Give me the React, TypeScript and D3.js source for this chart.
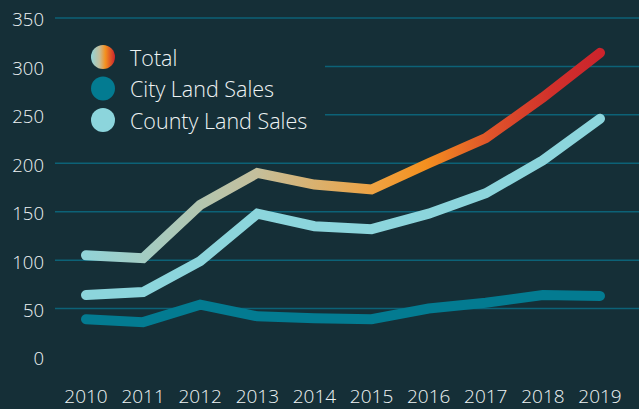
import { useEffect, useRef } from "react";
import * as d3 from "d3";

const years = ["2010", "2011", "2012", "2013", "2014", "2015", "2016", "2017", "2018", "2019"];
const total = [105, 102, 157, 190, 178, 173, 200, 226, 268, 314];
const citySales = [39, 36, 54, 42, 40, 39, 50, 56, 64, 63];
const countySales = [64, 67, 99, 148, 135, 132, 148, 169, 203, 246];
const yTicks = [0, 50, 100, 150, 200, 250, 300, 350];

const BG = "#152f37";
const GRID = "#0c6277";
const CITY = "#037b91";
const COUNTY = "#8cd5dc";
const TEXT = "#eef3f4";
const FONT = "Open Sans, sans-serif";

export default function App() {
  const ref = useRef<SVGSVGElement>(null);

  useEffect(() => {
    const width = 639;
    const height = 409;
    const svg = d3.select(ref.current);
    svg.selectAll("*").remove();

    const x = d3.scalePoint().domain(years).range([86, 600]);
    const y = d3.scaleLinear().domain([0, 350]).range([357, 18]);

    const defs = svg.append("defs");
    const stops = [
      [0, "#8fd4da"],
      [0.34, "#c4bf9c"],
      [0.56, "#eea343"],
      [0.66, "#f4901f"],
      [0.78, "#e0552a"],
      [0.9, "#d1302b"],
      [1, "#cc232c"],
    ];
    const grad = defs
      .append("linearGradient")
      .attr("id", "totalGrad")
      .attr("gradientUnits", "userSpaceOnUse")
      .attr("x1", 76)
      .attr("x2", 605)
      .attr("y1", 0)
      .attr("y2", 0);
    grad
      .selectAll("stop")
      .data(stops)
      .join("stop")
      .attr("offset", (d) => d[0])
      .attr("stop-color", (d) => d[1] as string);

    const legendGrad = defs.append("linearGradient").attr("id", "legendGrad");
    legendGrad
      .selectAll("stop")
      .data([
        [0, "#8fd4da"],
        [0.35, "#c4bf9c"],
        [0.6, "#f4901f"],
        [1, "#cc232c"],
      ])
      .join("stop")
      .attr("offset", (d) => d[0])
      .attr("stop-color", (d) => d[1] as string);

    svg.append("rect").attr("width", width).attr("height", height).attr("fill", BG);

    svg
      .selectAll("line.grid")
      .data(yTicks.filter((t) => t > 0))
      .join("line")
      .attr("class", "grid")
      .attr("x1", 55)
      .attr("x2", width)
      .attr("y1", (d) => y(d))
      .attr("y2", (d) => y(d))
      .attr("stroke", GRID)
      .attr("stroke-width", 1.5);

    svg
      .selectAll("text.ytick")
      .data(yTicks)
      .join("text")
      .attr("class", "ytick")
      .attr("x", 44)
      .attr("y", (d) => y(d) + 2)
      .attr("dy", "0.35em")
      .attr("text-anchor", "end")
      .attr("font-family", FONT)
      .attr("font-weight", 300)
      .attr("font-size", 18.5)
      .attr("fill", TEXT)
      .text((d) => d);

    svg
      .selectAll("text.xtick")
      .data(years)
      .join("text")
      .attr("class", "xtick")
      .attr("x", (d) => x(d) as number)
      .attr("y", 403)
      .attr("text-anchor", "middle")
      .attr("font-family", FONT)
      .attr("font-weight", 300)
      .attr("font-size", 19)
      .attr("fill", TEXT)
      .text((d) => d);

    // legend box hides the grid behind it
    svg.append("rect").attr("x", 55).attr("y", 36).attr("width", 270).attr("height", 104).attr("fill", BG);

    const line = d3
      .line<number>()
      .x((_, i) => x(years[i]) as number)
      .y((d) => y(d));

    const series = [
      { values: citySales, color: CITY },
      { values: countySales, color: COUNTY },
      { values: total, color: "url(#totalGrad)" },
    ];

    svg
      .selectAll("path.series")
      .data(series)
      .join("path")
      .attr("class", "series")
      .attr("d", (s) => line(s.values))
      .attr("fill", "none")
      .attr("stroke", (s) => s.color)
      .attr("stroke-width", 10)
      .attr("stroke-linecap", "round")
      .attr("stroke-linejoin", "miter");

    const legend = [
      { label: "Total", color: "url(#legendGrad)" },
      { label: "City Land Sales", color: CITY },
      { label: "County Land Sales", color: COUNTY },
    ];

    svg
      .selectAll("circle.legend")
      .data(legend)
      .join("circle")
      .attr("class", "legend")
      .attr("cx", 103)
      .attr("cy", (_, i) => 57 + i * 31.5)
      .attr("r", 12)
      .attr("fill", (d) => d.color);

    svg
      .selectAll("text.legend")
      .data(legend)
      .join("text")
      .attr("class", "legend")
      .attr("x", 130)
      .attr("y", (_, i) => 58 + i * 31.5)
      .attr("dy", "0.35em")
      .attr("font-family", FONT)
      .attr("font-weight", 300)
      .attr("font-size", 21.5)
      .attr("fill", TEXT)
      .text((d) => d.label);
  }, []);

  return (
    <svg
      ref={ref}
      width={639}
      height={409}
      style={{ position: "absolute", left: 0, top: 0, display: "block" }}
    />
  );
}
